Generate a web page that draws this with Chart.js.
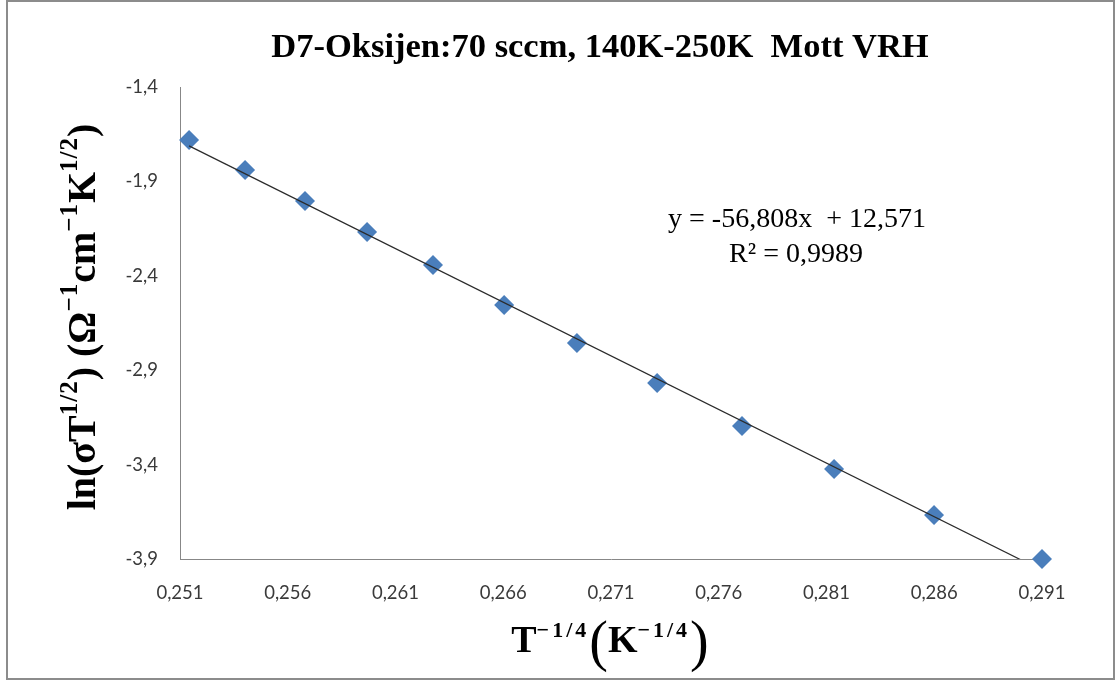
<!DOCTYPE html>
<html>
<head>
<meta charset="utf-8">
<script src="https://cdn.jsdelivr.net/npm/chart.js@4"></script>
<style>
  html, body { margin: 0; padding: 0; background: #ffffff; }
  #wrap { width: 1117px; height: 681px; }
</style>
</head>
<body>
<div id="wrap"><canvas id="c" width="1117" height="681"></canvas></div>
<script>
// Measured points: T^(-1/4) against ln(sigma * T^(1/2))
const xValues = [0.25142, 0.25402, 0.2568, 0.25968, 0.26274, 0.26604, 0.26942, 0.27314, 0.27708, 0.28135, 0.28599, 0.2910];
const yValues = [-1.681, -1.840, -2.004, -2.168, -2.343, -2.555, -2.756, -2.968, -3.196, -3.423, -3.667, -3.900];

// Linear fit stated on the chart
const fitSlope = -56.808;
const fitIntercept = 12.571;
const fitR2 = 0.9989;

// Axis ticks
const xTicks = [0.251, 0.256, 0.261, 0.266, 0.271, 0.276, 0.281, 0.286, 0.291];
const yTicks = [-1.4, -1.9, -2.4, -2.9, -3.4, -3.9];

const titleText = 'D7-Oksijen:70 sccm, 140K-250K  Mott VRH';

const fmt = (v, d) => v.toFixed(d).replace('.', ',');

const points = xValues.map((x, i) => ({ x, y: yValues[i] }));
const xFirst = xValues[0];
const xLast = xValues[xValues.length - 1];
const fitLine = [
  { x: xFirst, y: fitSlope * xFirst + fitIntercept },
  { x: xLast, y: fitSlope * xLast + fitIntercept }
];

// Width of one text piece, including any extra letter spacing
function pieceWidth(ctx, p) {
  ctx.font = p.font;
  const ls = p.ls || 0;
  return ctx.measureText(p.t).width + ls * p.t.length;
}

// Draws a run of text pieces (some raised as superscripts) centred on (cx, baseline)
function drawRich(ctx, pieces, cx, baseline) {
  const widths = pieces.map(p => pieceWidth(ctx, p));
  const total = widths.reduce((a, b) => a + b, 0);
  let x = cx - total / 2;
  ctx.textAlign = 'left';
  ctx.textBaseline = 'alphabetic';
  pieces.forEach((p, i) => {
    ctx.font = p.font;
    const ls = p.ls || 0;
    if (ls) {
      let cxp = x;
      for (const ch of p.t) {
        ctx.fillText(ch, cxp, baseline - (p.rise || 0));
        cxp += ctx.measureText(ch).width + ls;
      }
    } else {
      ctx.fillText(p.t, x, baseline - (p.rise || 0));
    }
    x += widths[i];
  });
}

const decor = {
  id: 'decor',
  beforeDraw(chart) {
    const ctx = chart.ctx;
    ctx.save();
    ctx.fillStyle = '#ffffff';
    ctx.fillRect(0, 0, chart.width, chart.height);
    ctx.restore();
  },
  afterDraw(chart) {
    const ctx = chart.ctx;
    ctx.save();

    // outer frame
    ctx.strokeStyle = '#8c8c8c';
    ctx.lineWidth = 2;
    ctx.strokeRect(7, 1, 1107, 678);

    ctx.fillStyle = '#000000';

    // title
    ctx.font = 'bold 34.5px "Liberation Serif"';
    ctx.textAlign = 'center';
    ctx.textBaseline = 'alphabetic';
    ctx.fillText(titleText, 600, 57);

    // regression text
    ctx.font = '28px "Liberation Serif"';
    ctx.fillText('y = ' + fmt(fitSlope, 3) + 'x  + ' + fmt(fitIntercept, 3), 797, 227);
    ctx.fillText('R\u00B2 = ' + fmt(fitR2, 4), 796, 262);

    // x axis title
    const xb = 'bold 38px "Liberation Serif"';
    const xs = 'bold 22px "Liberation Serif"';
    const xp = '56px "Liberation Serif"';
    drawRich(ctx, [
      { t: 'T', font: xb },
      { t: '\u22121/4', font: xs, rise: 15, ls: 3 },
      { t: '(', font: xp, rise: -8 },
      { t: 'K', font: xb },
      { t: '\u22121/4', font: xs, rise: 15, ls: 3 },
      { t: ')', font: xp, rise: -8 }
    ], 610, 652);

    // y axis title, rotated
    ctx.translate(95, 317);
    ctx.rotate(-Math.PI / 2);
    const yb = 'bold 40px "Liberation Serif"';
    const ys = 'bold 25px "Liberation Serif"';
    drawRich(ctx, [
      { t: 'ln(\u03C3T', font: yb },
      { t: '1/2', font: ys, rise: 18, ls: 1 },
      { t: ') (\u03A9', font: yb },
      { t: '\u22121', font: ys, rise: 18, ls: 1 },
      { t: 'cm', font: yb },
      { t: '\u22121', font: ys, rise: 18, ls: 1 },
      { t: 'K', font: yb },
      { t: '1/2', font: ys, rise: 18, ls: 1 },
      { t: ')', font: yb }
    ], 0, 0);

    ctx.restore();
  }
};

new Chart(document.getElementById('c'), {
  type: 'scatter',
  data: {
    datasets: [
      {
        label: 'Linear fit',
        type: 'line',
        data: fitLine,
        borderColor: '#2b2b2b',
        borderWidth: 1.2,
        pointRadius: 0,
        fill: false,
        tension: 0
      },
      {
        label: 'ln(σT^1/2)',
        data: points,
        pointStyle: 'rectRot',
        pointRadius: 10,
        pointHoverRadius: 10,
        backgroundColor: '#4a7ebb',
        borderColor: '#4a7ebb',
        borderWidth: 0,
        clip: false
      }
    ]
  },
  options: {
    responsive: false,
    animation: false,
    events: [],
    layout: { padding: { top: 87, right: 75, bottom: 0, left: 0 } },
    plugins: {
      legend: { display: false },
      tooltip: { enabled: false },
      title: { display: false }
    },
    scales: {
      x: {
        type: 'linear',
        min: 0.251,
        max: 0.291,
        afterBuildTicks: s => { s.ticks = xTicks.map(v => ({ value: v })); },
        afterFit: s => { s.height = 681 - 559; },
        grid: { display: false, drawTicks: false },
        border: { display: true, color: '#878787', width: 1 },
        ticks: {
          autoSkip: false,
          maxRotation: 0,
          padding: 23,
          color: '#3a3a3a',
          font: { family: 'Lato', size: 18.5 },
          callback: v => fmt(v, 3)
        }
      },
      y: {
        type: 'linear',
        min: -3.9,
        max: -1.4,
        afterBuildTicks: s => { s.ticks = yTicks.map(v => ({ value: v })); },
        afterFit: s => { s.width = 180; },
        grid: { display: false, drawTicks: false },
        border: { display: true, color: '#878787', width: 1 },
        ticks: {
          autoSkip: false,
          padding: 22,
          color: '#3a3a3a',
          font: { family: 'Lato', size: 18.5 },
          callback: v => fmt(v, 1)
        }
      }
    }
  },
  plugins: [decor]
});
</script>
</body>
</html>
